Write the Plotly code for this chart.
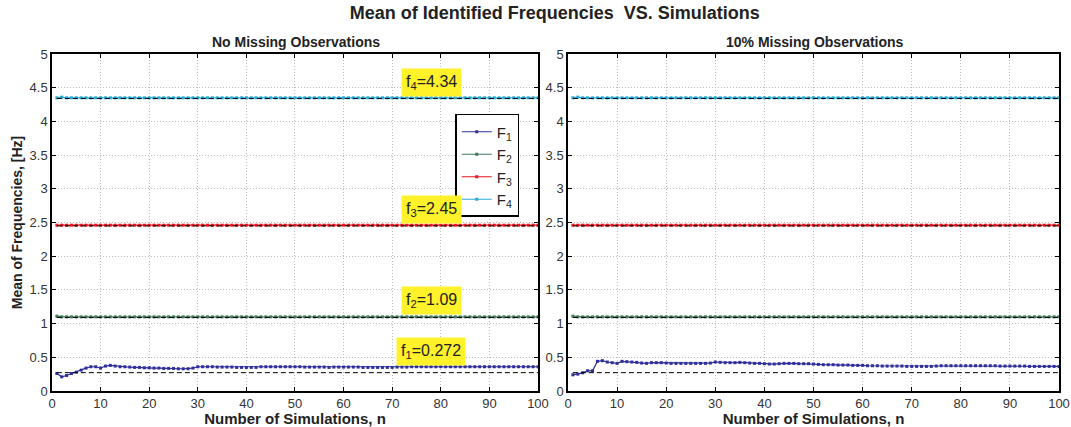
import plotly.graph_objects as go
from plotly.subplots import make_subplots

# numero de simulaciones
n = list(range(1, 101))

# valores verdaderos
f_true = [0.272, 1.09, 2.45, 4.34]
f_labels = ["f<sub>1</sub>=0.272", "f<sub>2</sub>=1.09", "f<sub>3</sub>=2.45", "f<sub>4</sub>=4.34"]

# sin observaciones faltantes
f1_a = [0.26, 0.21, 0.23, 0.26, 0.28, 0.31, 0.34, 0.36, 0.36, 0.34,
        0.37, 0.38, 0.37, 0.36, 0.36, 0.355, 0.35, 0.35, 0.345, 0.345,
        0.34, 0.34, 0.335, 0.335, 0.335, 0.33, 0.33, 0.33, 0.34, 0.36,
        0.36, 0.36, 0.36, 0.355, 0.355, 0.355, 0.355, 0.35, 0.35, 0.35,
        0.35, 0.35, 0.36, 0.36, 0.36, 0.36, 0.36, 0.36, 0.36, 0.36,
        0.36, 0.355, 0.355, 0.355, 0.355, 0.355, 0.35, 0.355, 0.355, 0.355,
        0.355, 0.355, 0.355, 0.35, 0.35, 0.35, 0.35, 0.35, 0.35, 0.35,
        0.355, 0.355, 0.355, 0.36, 0.36, 0.36, 0.36, 0.36, 0.36, 0.36,
        0.36, 0.36, 0.36, 0.36, 0.36, 0.36, 0.36, 0.36, 0.36, 0.36,
        0.36, 0.36, 0.36, 0.36, 0.36, 0.36, 0.36, 0.36, 0.36, 0.36]
f2_a = [1.11, 1.10, 1.10, 1.10, 1.10, 1.10, 1.10, 1.10, 1.10, 1.10,
        1.10, 1.10, 1.10, 1.10, 1.10, 1.10, 1.10, 1.10, 1.10, 1.10,
        1.10, 1.10, 1.10, 1.10, 1.10, 1.10, 1.10, 1.10, 1.10, 1.10,
        1.10, 1.10, 1.10, 1.10, 1.10, 1.10, 1.10, 1.10, 1.10, 1.10,
        1.10, 1.10, 1.10, 1.10, 1.10, 1.10, 1.10, 1.10, 1.10, 1.10,
        1.10, 1.10, 1.10, 1.10, 1.10, 1.10, 1.10, 1.10, 1.10, 1.10,
        1.10, 1.10, 1.10, 1.10, 1.10, 1.10, 1.10, 1.10, 1.10, 1.10,
        1.10, 1.10, 1.10, 1.10, 1.10, 1.10, 1.10, 1.10, 1.10, 1.10,
        1.10, 1.10, 1.10, 1.10, 1.10, 1.10, 1.10, 1.10, 1.10, 1.10,
        1.10, 1.10, 1.10, 1.10, 1.10, 1.10, 1.10, 1.10, 1.10, 1.10]
f3_a = [2.46, 2.46, 2.46, 2.46, 2.46, 2.46, 2.46, 2.46, 2.46, 2.46,
        2.46, 2.46, 2.46, 2.46, 2.46, 2.46, 2.46, 2.46, 2.46, 2.46,
        2.46, 2.46, 2.46, 2.46, 2.46, 2.46, 2.46, 2.46, 2.46, 2.46,
        2.46, 2.46, 2.46, 2.46, 2.46, 2.46, 2.46, 2.46, 2.46, 2.46,
        2.46, 2.46, 2.46, 2.46, 2.46, 2.46, 2.46, 2.46, 2.46, 2.46,
        2.46, 2.46, 2.46, 2.46, 2.46, 2.46, 2.46, 2.46, 2.46, 2.46,
        2.46, 2.46, 2.46, 2.46, 2.46, 2.46, 2.46, 2.46, 2.46, 2.46,
        2.46, 2.46, 2.46, 2.46, 2.46, 2.46, 2.46, 2.46, 2.46, 2.46,
        2.46, 2.46, 2.46, 2.46, 2.46, 2.46, 2.46, 2.46, 2.46, 2.46,
        2.46, 2.46, 2.46, 2.46, 2.46, 2.46, 2.46, 2.46, 2.46, 2.46]
f4_a = [4.35, 4.36, 4.35, 4.35, 4.35, 4.35, 4.35, 4.35, 4.35, 4.35,
        4.35, 4.35, 4.35, 4.35, 4.35, 4.35, 4.35, 4.35, 4.35, 4.35,
        4.35, 4.35, 4.35, 4.35, 4.35, 4.35, 4.35, 4.35, 4.35, 4.35,
        4.35, 4.35, 4.35, 4.35, 4.35, 4.35, 4.35, 4.35, 4.35, 4.35,
        4.35, 4.35, 4.35, 4.35, 4.35, 4.35, 4.35, 4.35, 4.35, 4.35,
        4.35, 4.35, 4.35, 4.35, 4.35, 4.35, 4.35, 4.35, 4.35, 4.35,
        4.35, 4.35, 4.35, 4.35, 4.35, 4.35, 4.35, 4.35, 4.35, 4.35,
        4.35, 4.35, 4.35, 4.35, 4.35, 4.35, 4.35, 4.35, 4.35, 4.35,
        4.35, 4.35, 4.35, 4.35, 4.35, 4.35, 4.35, 4.35, 4.35, 4.35,
        4.35, 4.35, 4.35, 4.35, 4.35, 4.35, 4.35, 4.35, 4.35, 4.35]

# 10% de observaciones faltantes
f1_b = [0.24, 0.25, 0.27, 0.30, 0.30, 0.44, 0.45, 0.43, 0.42, 0.41,
        0.44, 0.435, 0.43, 0.425, 0.415, 0.41, 0.42, 0.42, 0.42, 0.415,
        0.41, 0.41, 0.41, 0.41, 0.41, 0.41, 0.41, 0.41, 0.415, 0.43,
        0.425, 0.42, 0.42, 0.42, 0.425, 0.42, 0.415, 0.41, 0.41, 0.405,
        0.40, 0.40, 0.405, 0.41, 0.41, 0.41, 0.405, 0.405, 0.405, 0.40,
        0.395, 0.39, 0.39, 0.39, 0.385, 0.385, 0.385, 0.38, 0.38, 0.38,
        0.375, 0.375, 0.375, 0.37, 0.37, 0.37, 0.37, 0.37, 0.365, 0.365,
        0.365, 0.365, 0.365, 0.365, 0.37, 0.375, 0.375, 0.375, 0.375, 0.375,
        0.375, 0.375, 0.375, 0.375, 0.375, 0.375, 0.375, 0.37, 0.37, 0.37,
        0.37, 0.37, 0.37, 0.365, 0.365, 0.365, 0.365, 0.365, 0.365, 0.365]
f2_b = f2_a
f3_b = f3_a
f4_b = f4_a

colores = ["#2e2e9c", "#3f7a5c", "#e8141e", "#2aa8d8"]
nombres = ["F<sub>1</sub>", "F<sub>2</sub>", "F<sub>3</sub>", "F<sub>4</sub>"]

fig = make_subplots(rows=1, cols=2, horizontal_spacing=0.03,
                    subplot_titles=["No Missing Observations", "10% Missing Observations"])

for col, series in [(1, [f1_a, f2_a, f3_a, f4_a]), (2, [f1_b, f2_b, f3_b, f4_b])]:
    for i, ys in enumerate(series):
        fig.add_trace(go.Scatter(
            x=n, y=ys, mode="lines+markers", name=nombres[i],
            line=dict(color=colores[i], width=1.2),
            marker=dict(color=colores[i], size=3, symbol="square"),
            showlegend=(col == 1),
        ), row=1, col=col)
    for v in f_true:
        fig.add_trace(go.Scatter(
            x=[n[0], n[-1]], y=[v, v], mode="lines",
            line=dict(color="black", width=1, dash="5px,3px"),
            showlegend=False, hoverinfo="skip",
        ), row=1, col=col)

# etiquetas amarillas
label_y = [0.59, 1.35, 2.69, 4.58]
for txt, yv in zip(f_labels, label_y):
    fig.add_annotation(x=78, y=yv, xref="x", yref="y", text=txt, showarrow=False,
                       bgcolor="#fff22a", font=dict(size=16, color="#222222"),
                       borderpad=4)

ejes = dict(range=[0, 100], dtick=10, showline=True, linecolor="black", linewidth=1.5,
            mirror="allticks", ticks="inside", ticklen=4, tickcolor="black",
            showgrid=True, gridcolor="#bdbdbd", griddash="1px,2px", gridwidth=1,
            zeroline=False, automargin=False, tickfont=dict(size=13, color="#333333"))
fig.update_xaxes(**ejes)
fig.update_xaxes(title_text="<b>Number of Simulations, n</b>",
                 title_font=dict(size=15, color="#222222"), title_standoff=0)
ejes_y = dict(ejes)
ejes_y.update(range=[0, 5], dtick=0.5)
fig.update_yaxes(**ejes_y)
fig.update_yaxes(title_text="<b>Mean of Frequencies, [Hz]</b>",
                 title_font=dict(size=14, color="#222222"), title_standoff=4, row=1, col=1)

fig.update_xaxes(domain=[0, 0.4826], row=1, col=1)
fig.update_xaxes(domain=[0.5124, 1], row=1, col=2)

for a in fig.layout.annotations[:2]:
    a.font = dict(size=14, color="#222222", family="Liberation Sans", weight="bold")
    a.yshift = 2

fig.update_layout(
    title=dict(text="Mean of Identified Frequencies  VS. Simulations",
               x=0.518, xanchor="center", y=0.985, yanchor="top",
               font=dict(size=18, color="#222222", weight="bold")),
    font=dict(family="Liberation Sans"),
    width=1071, height=427,
    margin=dict(l=52, r=12, t=54, b=36),
    plot_bgcolor="white", paper_bgcolor="white",
    legend=dict(x=0.464, y=0.822, xanchor="right", yanchor="top",
                bordercolor="black", borderwidth=1.5, bgcolor="white",
                font=dict(size=15, color="#222222"), itemwidth=30,
                tracegroupgap=0),
)

fig.write_html("out.html", config={"displayModeBar": False},
               post_script="document.body.style.margin='0';")
